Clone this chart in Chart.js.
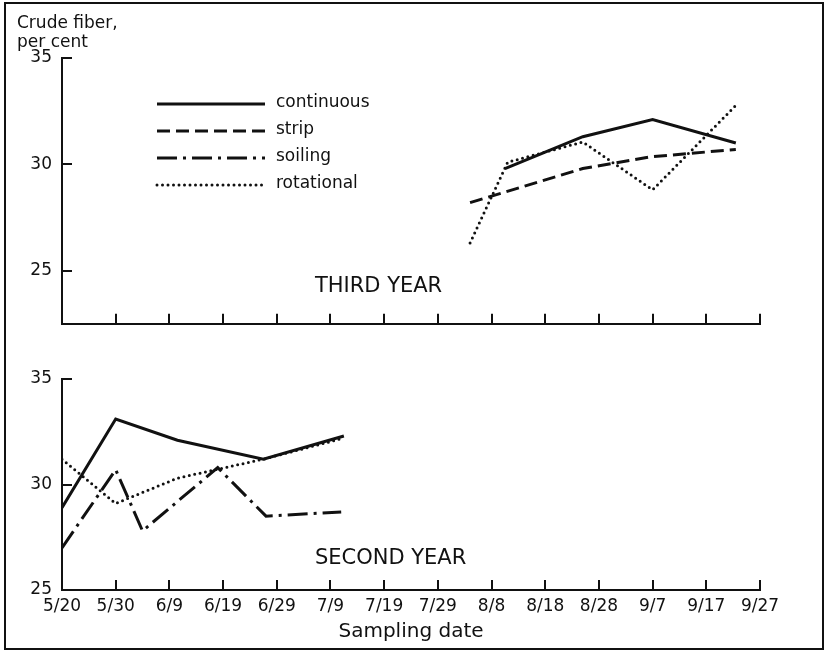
<!DOCTYPE html>
<html>
<head>
<meta charset="utf-8">
<script src="https://cdn.jsdelivr.net/npm/chart.js@4.4.1/dist/chart.umd.min.js"></script>
<style>
  html, body { margin: 0; padding: 0; background: #fff; }
  #wrap { position: relative; width: 826px; height: 651px; overflow: hidden; }
  #frame { position: absolute; left: 4px; top: 2px; width: 816px; height: 644px; border: 2px solid #111; }
  #thirdYear { position: absolute; left: 0; top: 0; }
  #secondYear { position: absolute; left: 0; top: 340px; }
</style>
</head>
<body>
<div id="wrap">
  <div id="frame"></div>
  <canvas id="thirdYear" width="826" height="344"></canvas>
  <canvas id="secondYear" width="826" height="311"></canvas>
</div>
<script>
// x values are days counted from 5/20
const dateTicks = [0, 10, 20, 30, 40, 50, 60, 70, 80, 90, 100, 110, 120, 130];
const dateLabels = ['5/20', '5/30', '6/9', '6/19', '6/29', '7/9', '7/19', '7/29', '8/8', '8/18', '8/28', '9/7', '9/17', '9/27'];
const yTicks = [25, 30, 35];

const seriesNames = ['continuous', 'strip', 'soiling', 'rotational'];

// third year
const thirdContinuousDays = [82.5, 97, 110, 125.5];
const thirdContinuous = [29.8, 31.3, 32.1, 31.0];
const thirdStripDays = [76, 97, 109.5, 125.5];
const thirdStrip = [28.2, 29.8, 30.35, 30.7];
const thirdRotationalDays = [76, 83, 97, 110, 126];
const thirdRotational = [26.3, 30.1, 31.05, 28.8, 32.9];

// second year
const secondContinuousDays = [0, 10, 21.5, 37.5, 52.5];
const secondContinuous = [28.9, 33.1, 32.1, 31.2, 32.3];
const secondSoilingDays = [0, 10, 15, 29, 38, 52];
const secondSoiling = [27.0, 30.7, 27.8, 30.8, 28.5, 28.7];
const secondRotationalDays = [0, 10, 21.5, 37.5, 52.5];
const secondRotational = [31.2, 29.1, 30.3, 31.2, 32.2];

const ink = '#111';
const lineStyles = {
  continuous: { borderDash: [], borderCapStyle: 'butt', borderWidth: 3 },
  strip: { borderDash: [13, 6], borderCapStyle: 'butt', borderWidth: 3 },
  soiling: { borderDash: [20, 6, 3, 6], borderCapStyle: 'butt', borderWidth: 3 },
  rotational: { borderDash: [0, 5.5], borderCapStyle: 'round', borderWidth: 3 }
};

Chart.defaults.font.family = '"DejaVu Sans", sans-serif';
Chart.defaults.color = ink;

function series(name, days, values) {
  return Object.assign({
    label: name,
    data: days.map((d, i) => ({ x: d, y: values[i] })),
    borderColor: ink,
    pointRadius: 0,
    tension: 0,
    fill: false,
    borderJoinStyle: 'miter'
  }, lineStyles[name]);
}

// tick marks point into the plot
const innerTicks = {
  id: 'innerTicks',
  afterDraw(chart) {
    const { ctx, chartArea, scales: { x, y } } = chart;
    ctx.save();
    ctx.strokeStyle = ink;
    ctx.lineWidth = 2;
    ctx.beginPath();
    x.ticks.forEach(t => {
      const px = Math.round(x.getPixelForValue(t.value));
      ctx.moveTo(px, chartArea.bottom);
      ctx.lineTo(px, chartArea.bottom - 10);
    });
    y.ticks.forEach(t => {
      const py = Math.round(y.getPixelForValue(t.value));
      ctx.moveTo(chartArea.left, py);
      ctx.lineTo(chartArea.left + 10, py);
    });
    ctx.stroke();
    ctx.restore();
  }
};

const panelText = {
  id: 'panelText',
  afterDraw(chart, args, opts) {
    const { ctx, scales: { x, y } } = chart;
    ctx.save();
    ctx.fillStyle = ink;
    ctx.font = '21px "DejaVu Sans"';
    ctx.textBaseline = 'middle';
    ctx.fillText(opts.text, x.getPixelForValue(opts.x), y.getPixelForValue(opts.y));
    ctx.restore();
  }
};

const lineKey = {
  id: 'lineKey',
  afterDraw(chart, args, opts) {
    if (!opts.show) return;
    const { ctx, chartArea } = chart;
    ctx.save();
    ctx.font = '17px "DejaVu Sans"';
    ctx.fillStyle = ink;
    ctx.strokeStyle = ink;
    ctx.textBaseline = 'middle';
    seriesNames.forEach((name, i) => {
      const st = lineStyles[name];
      const x0 = chartArea.left + 95;
      const yy = chartArea.top + 46 + i * 27;
      ctx.beginPath();
      ctx.lineWidth = st.borderWidth;
      ctx.lineCap = st.borderCapStyle;
      ctx.setLineDash(st.borderDash);
      ctx.moveTo(x0, yy);
      ctx.lineTo(x0 + 108, yy);
      ctx.stroke();
      ctx.setLineDash([]);
      ctx.fillText(name, x0 + 119, yy - 1);
    });
    // y axis caption
    ctx.textBaseline = 'alphabetic';
    ctx.fillText('Crude fiber,', chartArea.left - 45, chartArea.top - 30);
    ctx.fillText('per cent', chartArea.left - 45, chartArea.top - 11);
    ctx.restore();
  }
};

function options(yMin, showDates, label, pad) {
  return {
    responsive: false,
    animation: false,
    layout: { padding: pad },
    plugins: {
      legend: { display: false },
      tooltip: { enabled: false },
      panelText: label,
      lineKey: { show: !showDates }
    },
    scales: {
      x: {
        type: 'linear',
        min: 0,
        max: 130,
        afterBuildTicks: s => { s.ticks = dateTicks.map(v => ({ value: v })); },
        afterFit: s => { s.height = showDates ? 61 : 12; },
        grid: { display: false, drawTicks: false },
        border: { display: true, color: ink, width: 2 },
        ticks: {
          display: showDates,
          autoSkip: false,
          maxRotation: 0,
          padding: 6,
          font: { size: 17 },
          callback: (v, i) => dateLabels[i]
        },
        title: {
          display: showDates,
          text: 'Sampling date',
          font: { size: 20 },
          padding: { top: 0, bottom: 7 }
        }
      },
      y: {
        min: yMin,
        max: 35,
        afterBuildTicks: s => { s.ticks = yTicks.map(v => ({ value: v })); },
        afterFit: s => { s.width = 62; },
        grid: { display: false, drawTicks: false },
        border: { display: true, color: ink, width: 2 },
        ticks: { padding: 10, font: { size: 17 } }
      }
    }
  };
}

new Chart(document.getElementById('thirdYear'), {
  type: 'line',
  data: {
    datasets: [
      series('continuous', thirdContinuousDays, thirdContinuous),
      series('strip', thirdStripDays, thirdStrip),
      series('rotational', thirdRotationalDays, thirdRotational)
    ]
  },
  options: options(22.5, false, { text: 'THIRD YEAR', x: 47.1, y: 24.25 }, { top: 58, right: 66, bottom: 0, left: 0 }),
  plugins: [innerTicks, panelText, lineKey]
});

new Chart(document.getElementById('secondYear'), {
  type: 'line',
  data: {
    datasets: [
      series('continuous', secondContinuousDays, secondContinuous),
      series('soiling', secondSoilingDays, secondSoiling),
      series('rotational', secondRotationalDays, secondRotational)
    ]
  },
  options: options(25, true, { text: 'SECOND YEAR', x: 47.1, y: 26.47 }, { top: 39, right: 66, bottom: 0, left: 0 }),
  plugins: [innerTicks, panelText, lineKey]
});
</script>
</body>
</html>
